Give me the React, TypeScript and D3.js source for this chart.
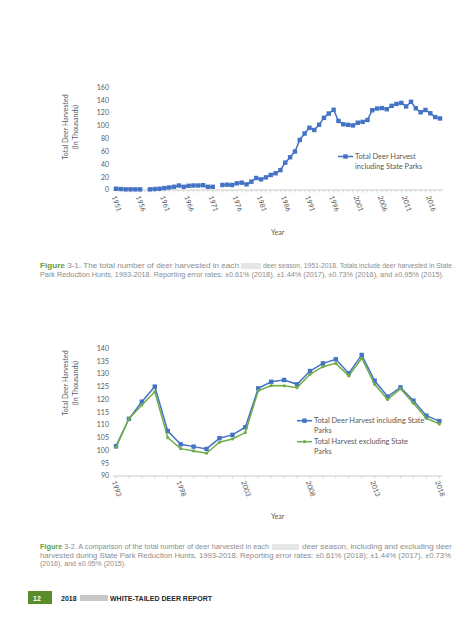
import { scaleLinear, line, range } from 'd3'

// Two Excel-style harvest charts laid out like a report page.
const YEARS_ALL = range(1951, 2019)
// Figure 3-1: total harvest (thousands), null where no season was reported
const HARVEST_ALL: (number | null)[] = [
  2, 1.5, 1, 1, 1, 1, null, 1, 1.5, 2, 3, 4, 5, 7, 5, 6.5, 7, 7, 7.5, 5, 5, null,
  7.8, 8.3, 7.8, 10.4, 11.4, 8.8, 13, 18.7, 16.6, 19.7, 23.4, 26, 31, 42.6, 51, 60, 78, 88, 97, 93.5,
  101.7, 112.4, 119.1, 125, 107.6, 102.4, 101.5, 100.6, 104.8, 106.1, 109.1, 124.3, 126.9, 127.6,
  125.9, 131.1, 134.1, 135.7, 130.2, 137.4, 127.3, 121.1, 124.7, 119.5, 113.6, 111.5,
]
const TICKS_ALL = range(1951, 2019, 5)
const Y_TICKS_ALL = range(0, 161, 20)

// Figure 3-2: 1993-2018, with and without state park hunts
const YEARS_RECENT = range(1993, 2019)
const WITH_PARKS = [
  101.7, 112.4, 119.1, 125, 107.6, 102.4, 101.5, 100.6, 104.8, 106.1, 109.1, 124.3, 126.9,
  127.6, 125.9, 131.1, 134.1, 135.7, 130.2, 137.4, 127.3, 121.1, 124.7, 119.5, 113.6, 111.5,
]
const WITHOUT_PARKS = [
  101.2, 112.4, 117.8, 123, 105, 100.7, 99.8, 98.9, 103.2, 104.5, 107, 123.4, 125.4,
  125.3, 124.6, 129.8, 132.8, 134.1, 129.2, 136.1, 125.9, 120, 124.2, 118.5, 112.6, 110.4,
]
const TICKS_RECENT = range(1993, 2019, 5)
const Y_TICKS_RECENT = range(90, 141, 5)

const BLUE = '#4472c4'
const GREEN = '#70ad47'
const AXIS = '#bfbfbf'
const TXT = '#595959'
const CHART_FONT = 'Lato, "Open Sans", sans-serif'
const CAP_FONT = '"Liberation Sans", Arial, sans-serif'
const CAP_GREY = '#8c8c8c'
const CAP_GREEN = '#6a9a3c'

type Pt = { yr: number; v: number | null }

function Chart({
  years, series, xTicks, yTicks, x0, x1, yTop, yBot, yMin, yMax, xLabelTop, titleY, yearY,
}: {
  years: number[]
  series: { vals: (number | null)[]; color: string; marker: 'square' | 'dot' }[]
  xTicks: number[]
  yTicks: number[]
  x0: number; x1: number; yTop: number; yBot: number; yMin: number; yMax: number
  xLabelTop: number; titleY: number; yearY: number
}) {
  const x = scaleLinear().domain([years[0], years[years.length - 1]]).range([x0, x1])
  const y = scaleLinear().domain([yMin, yMax]).range([yBot, yTop])
  const gen = line<Pt>()
    .defined((d) => d.v !== null)
    .x((d) => x(d.yr))
    .y((d) => y(d.v as number))
  return (
    <g>
      {/* y axis labels */}
      {yTicks.map((t) => (
        <text key={t} x={x0 - 7} y={y(t)} dy="0.35em" textAnchor="end" fontSize={7} fill={TXT} fontFamily={CHART_FONT}>
          {t}
        </text>
      ))}
      <text transform={`translate(68,${titleY}) rotate(-90)`} textAnchor="middle" fontSize={7} fill={TXT} fontFamily={CHART_FONT}>
        Total Deer Harvested
      </text>
      <text transform={`translate(78,${titleY}) rotate(-90)`} textAnchor="middle" fontSize={7} fill={TXT} fontFamily={CHART_FONT}>
        (In Thousands)
      </text>
      {/* x axis */}
      <line x1={x0 - 3} x2={x1 + 3} y1={yBot} y2={yBot} stroke={AXIS} strokeWidth={0.8} />
      {years.map((yr) => (
        <line key={yr} x1={x(yr)} x2={x(yr)} y1={yBot} y2={yBot + 2.5} stroke={AXIS} strokeWidth={0.6} />
      ))}
      {xTicks.map((t) => (
        <text
          key={t}
          transform={`translate(${x(t) - 2},${xLabelTop}) rotate(70)`}
          dy="0.35em"
          fontSize={7}
          fill={TXT}
          fontFamily={CHART_FONT}
        >
          {t}
        </text>
      ))}
      <text x={271} y={yearY} fontSize={7} fill={TXT} fontFamily={CHART_FONT}>
        Year
      </text>
      {series.map((s, si) => {
        const pts: Pt[] = years.map((yr, i) => ({ yr, v: s.vals[i] }))
        return (
          <g key={si}>
            <path d={gen(pts) ?? ''} fill="none" stroke={s.color} strokeWidth={1.5} />
            {pts
              .filter((p) => p.v !== null)
              .map((p) =>
                s.marker === 'square' ? (
                  <rect key={p.yr} x={x(p.yr) - 2.2} y={y(p.v as number) - 2.2} width={4.4} height={4.4} fill={s.color} />
                ) : (
                  <circle key={p.yr} cx={x(p.yr)} cy={y(p.v as number)} r={1.6} fill={s.color} />
                ),
              )}
          </g>
        )
      })}
    </g>
  )
}

function LegendItem({ x, y, color, marker, lines }: { x: number; y: number; color: string; marker: 'square' | 'dot'; lines: string[] }) {
  return (
    <g>
      <line x1={x} x2={x + 15} y1={y} y2={y} stroke={color} strokeWidth={1.5} />
      {marker === 'square' ? (
        <rect x={x + 5.3} y={y - 2.2} width={4.4} height={4.4} fill={color} />
      ) : (
        <circle cx={x + 7.5} cy={y} r={1.6} fill={color} />
      )}
      {lines.map((l, i) => (
        <text key={i} x={x + 17} y={y + i * 9.5} dy="0.35em" fontSize={7.4} fill={TXT} fontFamily={CHART_FONT}>
          {l}
        </text>
      ))}
    </g>
  )
}

function Caption({ y, parts }: { y: number; parts: { x: number; w: number; text: string; fig?: string }[] }) {
  return (
    <g fontFamily={CAP_FONT} fontSize={6.3} fill={CAP_GREY}>
      {parts.map((p, i) => (
        <text key={i} x={p.x} y={y} textLength={p.w} lengthAdjust="spacingAndGlyphs">
          {p.fig && <tspan fill={CAP_GREEN} fontWeight="bold">{p.fig}</tspan>}
          {p.text}
        </text>
      ))}
    </g>
  )
}

export default function App() {
  return (
    <svg width={470} height={619} style={{ position: 'absolute', left: 0, top: 0, background: '#fff' }}>
      <rect x={0} y={0} width={470} height={619} fill="#fff" />
      <Chart
        years={YEARS_ALL}
        series={[{ vals: HARVEST_ALL, color: BLUE, marker: 'square' }]}
        xTicks={TICKS_ALL}
        yTicks={Y_TICKS_ALL}
        x0={116} x1={440} yTop={87.3} yBot={190} yMin={0} yMax={160}
        xLabelTop={196} titleY={127} yearY={235}
      />
      <LegendItem x={338} y={156.5} color={BLUE} marker="square" lines={['Total Deer Harvest', 'including State Parks']} />

      <Chart
        years={YEARS_RECENT}
        series={[
          { vals: WITH_PARKS, color: BLUE, marker: 'square' },
          { vals: WITHOUT_PARKS, color: GREEN, marker: 'dot' },
        ]}
        xTicks={TICKS_RECENT}
        yTicks={Y_TICKS_RECENT}
        x0={116} x1={439.3} yTop={348.3} yBot={476} yMin={90} yMax={140}
        xLabelTop={481} titleY={383} yearY={519}
      />
      <LegendItem x={297} y={420.7} color={BLUE} marker="square" lines={['Total Deer Harvest including State', 'Parks']} />
      <LegendItem x={297} y={441.7} color={GREEN} marker="dot" lines={['Total Harvest excluding State', 'Parks']} />

      {/* captions; state name is blurred in the source */}
      <Caption
        y={268}
        parts={[
          { x: 40, w: 199, fig: 'Figure', text: ' 3-1. The total number of deer harvested in each' },
          { x: 263, w: 189, text: 'deer season, 1951-2018. Totals include deer harvested in State' },
        ]}
      />
      <rect x={241} y={263} width={20} height={6} fill="#e6e6e6" />
      <Caption
        y={277}
        parts={[{ x: 40, w: 404, text: 'Park Reduction Hunts, 1993-2018. Reporting error rates: ±0.61% (2018), ±1.44% (2017), ±0.73% (2016), and ±0.95% (2015).' }]}
      />

      <Caption
        y={549}
        parts={[
          { x: 40, w: 229, fig: 'Figure', text: ' 3-2. A comparison of the total number of deer harvested in each' },
          { x: 302, w: 150, text: 'deer season, including and excluding deer' },
        ]}
      />
      <rect x={272} y={544} width={27} height={6} fill="#e6e6e6" />
      <Caption
        y={558}
        parts={[{ x: 40, w: 411, text: 'harvested during State Park Reduction Hunts, 1993-2018. Reporting error rates: ±0.61% (2018); ±1.44% (2017), ±0.73%' }]}
      />
      <Caption y={566} parts={[{ x: 40, w: 86, text: '(2016), and ±0.95% (2015).' }]} />

      {/* footer */}
      <rect x={28} y={591} width={24} height={13} fill="#5b8c2a" />
      <text x={33} y={600.5} fontSize={7} fontWeight="bold" fill="#fff" fontFamily={CAP_FONT}>12</text>
      <text x={61} y={600.5} fontSize={7} fontWeight="bold" fill="#262626" fontFamily={CAP_FONT}>2018</text>
      <rect x={80} y={595} width={28} height={6} fill="#c8c8c8" />
      <text x={110} y={600.5} fontSize={7} fontWeight="bold" fill="#262626" fontFamily={CAP_FONT} textLength={102} lengthAdjust="spacingAndGlyphs">
        WHITE-TAILED DEER REPORT
      </text>
    </svg>
  )
}
